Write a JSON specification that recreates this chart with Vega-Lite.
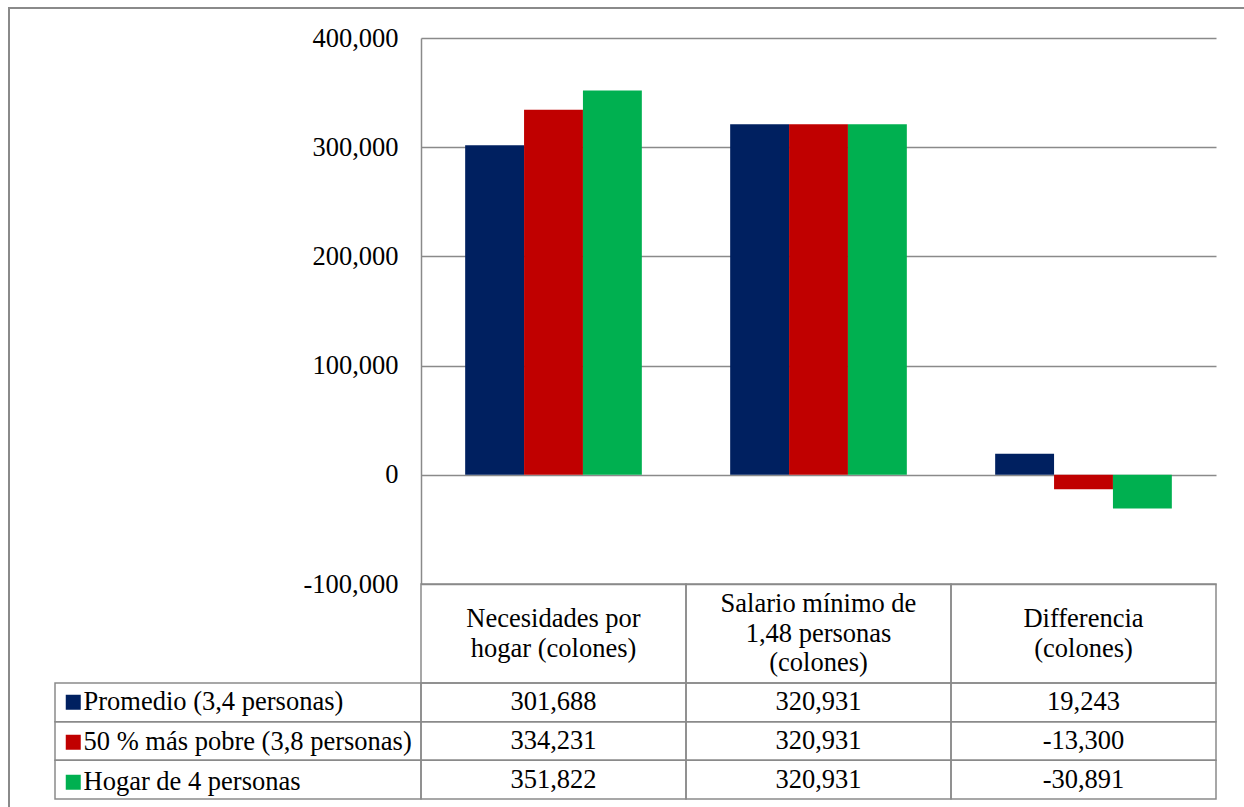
{
  "$schema": "https://vega.github.io/schema/vega-lite/v6.json",
  "autosize": {"type": "none"},
  "padding": {"left": 9, "top": 8, "right": 0, "bottom": 0},
  "width": 1240,
  "height": 805,
  "background": "white",
  "config": {
    "view": {"stroke": "#8a8a8a", "strokeWidth": 2},
    "font": "Liberation Serif, Times New Roman, serif",
    "locale": {"number": {"decimal": ".", "thousands": ",", "grouping": [3], "currency": ["$", ""], "minus": "-"}},
    "text": {"font": "Liberation Serif, Times New Roman, serif", "fontSize": 26.5, "color": "black"}
  },
  "datasets": {
    "valores": [
      {"serie": "Promedio (3,4 personas)", "categoria": "Necesidades por\nhogar (colones)", "valor": 301688},
      {"serie": "50 % más pobre (3,8 personas)", "categoria": "Necesidades por\nhogar (colones)", "valor": 334231},
      {"serie": "Hogar de 4 personas", "categoria": "Necesidades por\nhogar (colones)", "valor": 351822},
      {"serie": "Promedio (3,4 personas)", "categoria": "Salario mínimo de\n1,48 personas\n(colones)", "valor": 320931},
      {"serie": "50 % más pobre (3,8 personas)", "categoria": "Salario mínimo de\n1,48 personas\n(colones)", "valor": 320931},
      {"serie": "Hogar de 4 personas", "categoria": "Salario mínimo de\n1,48 personas\n(colones)", "valor": 320931},
      {"serie": "Promedio (3,4 personas)", "categoria": "Differencia\n(colones)", "valor": 19243},
      {"serie": "50 % más pobre (3,8 personas)", "categoria": "Differencia\n(colones)", "valor": -13300},
      {"serie": "Hogar de 4 personas", "categoria": "Differencia\n(colones)", "valor": -30891}
    ],
    "categorias": [
      {"categoria": "Necesidades por\nhogar (colones)"},
      {"categoria": "Salario mínimo de\n1,48 personas\n(colones)"},
      {"categoria": "Differencia\n(colones)"}
    ],
    "series": [
      {"serie": "Promedio (3,4 personas)"},
      {"serie": "50 % más pobre (3,8 personas)"},
      {"serie": "Hogar de 4 personas"}
    ]
  },
  "layer": [
    {
      "data": {"name": "valores"},
      "mark": {"type": "bar"},
      "encoding": {
        "x": {
          "field": "categoria", "type": "nominal",
          "sort": ["Necesidades por\nhogar (colones)", "Salario mínimo de\n1,48 personas\n(colones)", "Differencia\n(colones)"],
          "scale": {"range": [412, 1207], "paddingInner": 0, "paddingOuter": 0},
          "axis": null
        },
        "xOffset": {
          "field": "serie", "type": "nominal",
          "sort": ["Promedio (3,4 personas)", "50 % más pobre (3,8 personas)", "Hogar de 4 personas"],
          "scale": {"paddingInner": 0, "paddingOuter": 0.75}
        },
        "y": {
          "field": "valor", "type": "quantitative",
          "scale": {"domain": [-100000, 400000], "range": [576, 30], "nice": false},
          "axis": {
            "orient": "left", "offset": -412, "title": null,
            "values": [-100000, 0, 100000, 200000, 300000, 400000], "format": ",.0f",
            "ticks": false, "labelPadding": 23,
            "labelFont": "Liberation Serif, Times New Roman, serif", "labelFontSize": 26.5, "labelColor": "black",
            "domainColor": "#8a8a8a", "domainWidth": 1.5,
            "grid": true, "gridColor": "#8a8a8a", "gridWidth": 1.5, "gridOpacity": 1
          }
        },
        "color": {
          "field": "serie", "type": "nominal",
          "sort": ["Promedio (3,4 personas)", "50 % más pobre (3,8 personas)", "Hogar de 4 personas"],
          "scale": {"range": ["#002060", "#C00000", "#00B050"]},
          "legend": {
            "orient": "none", "legendX": 51, "legendY": 681, "title": null,
            "symbolType": "square", "symbolSize": 225, "symbolStrokeWidth": 0,
            "labelFont": "Liberation Serif, Times New Roman, serif", "labelFontSize": 26.5, "labelColor": "black",
            "labelOffset": -3, "rowPadding": 13, "padding": 0, "labelLimit": 600
          }
        }
      }
    },
    {
      "data": {"name": "categorias"},
      "encoding": {
        "x": {
          "field": "categoria", "type": "nominal",
          "sort": ["Necesidades por\nhogar (colones)", "Salario mínimo de\n1,48 personas\n(colones)", "Differencia\n(colones)"],
          "scale": {"range": [412, 1207], "paddingInner": 0, "paddingOuter": 0},
          "axis": null
        },
        "y": {
          "datum": "encabezado", "type": "nominal",
          "scale": {"range": [576, 675], "paddingInner": 0, "paddingOuter": 0},
          "axis": null
        }
      },
      "layer": [
        {"mark": {"type": "rect", "fill": "transparent", "stroke": "#8a8a8a", "strokeWidth": 1.5}},
        {
          "transform": [{"filter": "length(split(datum.categoria, '\\n')) == 2"}],
          "mark": {"type": "text", "lineBreak": "\n", "lineHeight": 30, "baseline": "middle", "align": "center", "dy": -15},
          "encoding": {"text": {"field": "categoria", "type": "nominal"}}
        },
        {
          "transform": [{"filter": "length(split(datum.categoria, '\\n')) == 3"}],
          "mark": {"type": "text", "lineBreak": "\n", "lineHeight": 29.5, "baseline": "middle", "align": "center", "dy": -29.5},
          "encoding": {"text": {"field": "categoria", "type": "nominal"}}
        }
      ]
    },
    {
      "data": {"name": "valores"},
      "encoding": {
        "x": {
          "field": "categoria", "type": "nominal",
          "sort": ["Necesidades por\nhogar (colones)", "Salario mínimo de\n1,48 personas\n(colones)", "Differencia\n(colones)"],
          "scale": {"range": [412, 1207], "paddingInner": 0, "paddingOuter": 0},
          "axis": null
        },
        "y": {
          "field": "serie", "type": "nominal",
          "sort": ["Promedio (3,4 personas)", "50 % más pobre (3,8 personas)", "Hogar de 4 personas"],
          "scale": {"range": [675, 791], "paddingInner": 0, "paddingOuter": 0},
          "axis": null
        }
      },
      "layer": [
        {"mark": {"type": "rect", "fill": "transparent", "stroke": "#8a8a8a", "strokeWidth": 1.5}},
        {
          "mark": {"type": "text", "baseline": "middle", "align": "center"},
          "encoding": {"text": {"field": "valor", "type": "quantitative", "format": ",.0f"}}
        }
      ]
    },
    {
      "data": {"name": "series"},
      "mark": {"type": "rect", "fill": "transparent", "stroke": "#8a8a8a", "strokeWidth": 1.5},
      "encoding": {
        "x": {
          "datum": "leyenda", "type": "nominal",
          "scale": {"range": [46, 412], "paddingInner": 0, "paddingOuter": 0},
          "axis": null
        },
        "y": {
          "field": "serie", "type": "nominal",
          "sort": ["Promedio (3,4 personas)", "50 % más pobre (3,8 personas)", "Hogar de 4 personas"],
          "scale": {"range": [675, 791], "paddingInner": 0, "paddingOuter": 0},
          "axis": null
        }
      }
    }
  ],
  "resolve": {"scale": {"x": "independent", "y": "independent"}}
}
